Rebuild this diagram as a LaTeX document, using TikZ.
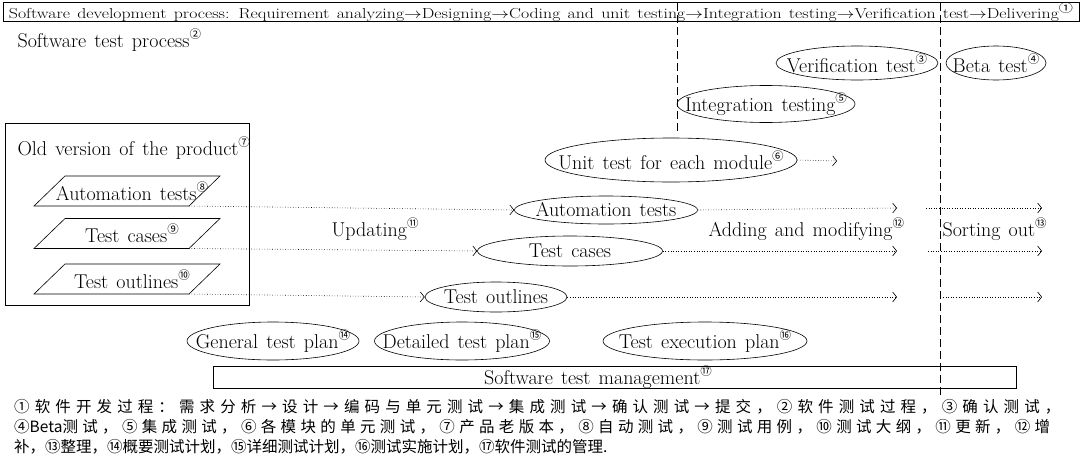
\documentclass[tikz,border=0pt]{standalone}
\usepackage{fontspec}
\setmainfont{Latin Modern Roman}[WordSpace=1.35]
\newfontfamily\cjk{Noto Sans CJK SC}
\newfontfamily\cjkA{Noto Sans CJK SC}[LetterSpace=33]
\newfontfamily\cjkB{Noto Sans CJK SC}[LetterSpace=28]
\newfontfamily\cjkC{Noto Sans CJK SC}
\usetikzlibrary{shapes.geometric,arrows.meta,calc}
\newcommand\cir[1]{\raisebox{0.45em}{\fontsize{11.5}{11.5}\selectfont\cjk #1}}
\begin{document}
\begin{tikzpicture}[x=1pt,y=-1pt, font=\fontsize{20}{22}\selectfont,
  ell/.style={draw, ellipse, inner xsep=-60pt, inner ysep=-20pt, line width=0.6pt},
  ptext/.style={inner sep=0pt},
  pline/.style={line width=0.6pt},
  flow/.style={dotted, line width=0.6pt, -{Straight Barb[length=4pt,width=10pt]}},
  vdash/.style={dash pattern=on 8pt off 4pt, line width=0.5pt},
  box/.style={draw, line width=0.6pt, inner sep=0pt},
  foot/.style={anchor=west, inner sep=0pt}]
\useasboundingbox (0,0) rectangle (1084,466);

% top process box
\node[box, minimum width=1076pt, minimum height=18pt, font=\fontsize{14.5}{15}\selectfont] (top) at (541,12)
  {\resizebox{1064pt}{\height}{Software development process: Requirement analyzing$\rightarrow$Designing$\rightarrow$Coding and unit testing$\rightarrow$Integration testing$\rightarrow$Verification test$\rightarrow$Delivering\cir{①}}};

\coordinate (d1a) at (677,3);
\coordinate (d1b) at (677,133);
\coordinate (d2a) at (940,3);
\coordinate (d2b) at (940,395);
\draw[vdash] (d1a) -- (d1b);
\draw[vdash] (d2a) -- (d2b);

\node[anchor=west] (stp) at (14,40) {Software test process\cir{②}};

\node[ell, minimum width=162pt, minimum height=34pt] (verif) at (857,63) {Verification test\cir{③}};
\node[ell, minimum width=100pt, minimum height=34pt] (beta) at (996,63) {Beta test\cir{④}};
\node[ell, minimum width=178pt, minimum height=37pt] (integ) at (766,104) {Integration testing\cir{⑤}};
\node[ell, minimum width=252pt, minimum height=44pt] (unit) at (671,160) {Unit test for each module\cir{⑥}};
\coordinate (unitend) at (837,161);
\draw[flow] (unit.east) -- (unitend);

% old version box
\node[box, minimum width=244pt, minimum height=182pt] (old) at (127,214) {};
\node[anchor=west] (oldlbl) at (14,148) {Old version of the product\cir{⑦}};

% parallelograms (old tests)
\node[ptext] (pa) at (132,191) {Automation tests\cir{⑧}};
\node[ptext] (pc) at (132,233.5) {Test cases\cir{⑨}};
\node[ptext] (po) at (132,279) {Test outlines\cir{⑩}};
\foreach \p in {pa,pc,po} {
  \coordinate (\p bl) at ($(\p)+(-98,15)$);
  \coordinate (\p tl) at ($(\p)+(-67,-15)$);
  \coordinate (\p tr) at ($(\p)+(88,-15)$);
  \coordinate (\p br) at ($(\p)+(57,15)$);
  \draw[pline] (\p bl) -- (\p tl) -- (\p tr) -- (\p br) -- cycle;
}

% middle ellipses
\node[ell, minimum width=183pt, minimum height=28pt] (auto) at (606,210) {Automation tests};
\node[ell, minimum width=185pt, minimum height=30pt] (cases) at (570,251) {Test cases};
\node[ell, minimum width=142pt, minimum height=30pt] (outl) at (496,297) {Test outlines};

\draw[flow] (pabr) -- (auto.west);
\draw[flow] (pcbr) -- (cases.west);
\draw[flow] (pobr) -- (outl.west);

\coordinate (a1) at (897,208); \coordinate (a2) at (926,208); \coordinate (a3) at (1042,208);
\coordinate (c1) at (897,251); \coordinate (c2) at (928,251); \coordinate (c3) at (1042,251);
\coordinate (o1) at (897,297); \coordinate (o2) at (943,297); \coordinate (o3) at (1042,297);
\draw[flow] (auto.east) -- (a1);
\draw[flow] (a2) -- (a3);
\draw[flow] (cases.east) -- (c1);
\draw[flow] (c2) -- (c3);
\draw[flow] (outl.east) -- (o1);
\draw[flow] (o2) -- (o3);

\node[anchor=west] (upd) at (328,229) {Updating\cir{⑪}};
\node[anchor=west] (add) at (705,229) {Adding and modifying\cir{⑫}};
\node[anchor=west] (sort) at (939,229) {Sorting out\cir{⑬}};

% plans
\node[ell, minimum width=172pt, minimum height=38pt] (gen) at (273,341) {General test plan\cir{⑭}};
\node[ell, minimum width=175pt, minimum height=38pt] (det) at (462,341) {Detailed test plan\cir{⑮}};
\node[ell, minimum width=204pt, minimum height=38pt] (exe) at (705,341) {Test execution plan\cir{⑯}};

% management
\node[box, minimum width=803pt, minimum height=22pt] (mgmt) at (614.5,377) {};
\node[inner sep=0pt] (mgmtlbl) at (598,377) {Software test management\cir{⑰}};

% footnote
\node[foot, font=\cjkA\fontsize{15.5}{17}\selectfont] (f1) at (14,407) {①软件开发过程：需求分析→设计→编码与单元测试→集成测试→确认测试→提交，②软件测试过程，③确认测试，};
\node[foot, font=\cjkB\fontsize{15.5}{17}\selectfont] (f2) at (14,427) {④{\cjkC Beta}测试，⑤集成测试，⑥各模块的单元测试，⑦产品老版本，⑧自动测试，⑨测试用例，⑩测试大纲，⑪更新，⑫增};
\node[foot, font=\cjkC\fontsize{15.5}{17}\selectfont] (f3) at (14,447) {补，⑬整理，⑭概要测试计划，⑮详细测试计划，⑯测试实施计划，⑰软件测试的管理.};
\end{tikzpicture}
\end{document}
